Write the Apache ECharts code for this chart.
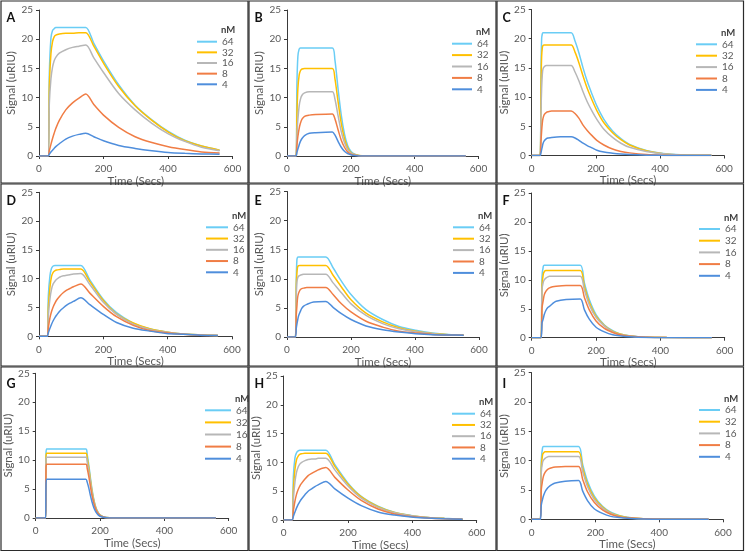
<!DOCTYPE html>
<html>
<head>
<meta charset="utf-8">
<script src="https://cdn.jsdelivr.net/npm/echarts@6/dist/echarts.min.js"></script>
<style>
html,body{margin:0;padding:0;background:#fff;}
#chart{width:745px;height:552px;}
</style>
</head>
<body>
<div id="chart"></div>
<script>
// ---------------- DATA ----------------
const concentrations = ['64', '32', '16', '8', '4'];
const panelLetters = ['A', 'B', 'C', 'D', 'E', 'F', 'G', 'H', 'I'];
const xTicks = [0, 200, 400, 600];
const yTicks = [0, 5, 10, 15, 20, 25];

// Panel A
const A_t  = [0, 28, 32, 37, 42, 47, 52, 63, 83, 104, 124, 145, 170, 200, 247, 298, 350, 401, 452, 504, 560];
const A_64 = [0, 0, 14.0, 20.2, 21.5, 21.8, 22.0, 22.0, 22.0, 22.0, 22.0, 22.0, 19.3, 16.3, 12.2, 8.7, 6.2, 4.2, 2.7, 1.7, 1.0];
const A_32 = [0, 0, 12.0, 17.5, 19.6, 20.4, 20.7, 20.9, 21.0, 21.0, 21.1, 21.1, 18.8, 15.9, 11.9, 8.6, 6.1, 4.1, 2.6, 1.7, 1.0];
const A_16 = [0, 0, 9.0, 13.2, 15.2, 16.3, 16.9, 17.6, 18.2, 18.6, 18.8, 19.0, 16.8, 14.3, 10.7, 7.9, 5.6, 3.8, 2.5, 1.5, 0.9];
const A_8  = [0, 0, 0.9, 2.0, 3.0, 3.9, 4.7, 6.1, 7.9, 9.1, 9.9, 10.6, 8.8, 7.0, 4.9, 3.3, 2.3, 1.6, 1.1, 0.7, 0.5];
const A_4  = [0, 0, 0.3, 0.7, 1.0, 1.3, 1.6, 2.1, 2.9, 3.4, 3.7, 3.9, 3.3, 2.6, 1.8, 1.3, 0.9, 0.6, 0.45, 0.35, 0.3];

// Panel B
const B_t  = [0, 28, 31, 34, 38, 42, 47, 55, 70, 90, 142, 150, 160, 170, 180, 190, 200, 212, 225, 245, 560];
const B_64 = [0, 0, 12.0, 17.0, 18.3, 18.5, 18.5, 18.5, 18.5, 18.5, 18.5, 16.5, 11.5, 7.0, 3.8, 1.8, 0.8, 0.3, 0.1, 0, 0];
const B_32 = [0, 0, 7.0, 11.5, 13.8, 14.6, 14.9, 15.0, 15.0, 15.0, 15.0, 13.3, 9.3, 5.6, 3.0, 1.4, 0.6, 0.25, 0.08, 0, 0];
const B_16 = [0, 0, 3.5, 6.2, 8.5, 9.7, 10.4, 10.8, 11.0, 11.0, 11.0, 9.8, 6.9, 4.2, 2.3, 1.1, 0.5, 0.2, 0.06, 0, 0];
const B_8  = [0, 0, 1.8, 3.3, 4.7, 5.6, 6.3, 6.8, 7.0, 7.1, 7.2, 6.4, 4.5, 2.7, 1.5, 0.7, 0.3, 0.12, 0.04, 0, 0];
const B_4  = [0, 0, 0.6, 1.2, 1.9, 2.5, 3.0, 3.5, 3.9, 4.0, 4.1, 3.6, 2.5, 1.5, 0.8, 0.4, 0.2, 0.07, 0.02, 0, 0];

// Panel C
const C_t  = [0, 26, 29, 31, 33, 35, 39, 46, 52, 62, 90, 123, 135, 147, 160, 173, 188, 203, 225, 252, 278, 305, 357, 410, 463, 560];
const C_64 = [0, 0, 15.0, 20.0, 20.8, 21.0, 21.0, 21.0, 21.0, 21.0, 21.0, 21.0, 19.6, 17.6, 15.0, 12.7, 10.5, 8.5, 6.2, 4.2, 2.9, 1.9, 0.86, 0.34, 0.12, 0.03];
const C_32 = [0, 0, 12.0, 17.0, 18.4, 18.8, 18.9, 18.9, 18.9, 18.9, 18.9, 18.9, 17.7, 15.9, 13.6, 11.5, 9.5, 7.7, 5.6, 3.9, 2.7, 1.8, 0.8, 0.3, 0.1, 0.03];
const C_16 = [0, 0, 7.5, 11.5, 13.8, 14.8, 15.2, 15.4, 15.4, 15.4, 15.4, 15.4, 14.3, 12.8, 10.9, 9.2, 7.6, 6.2, 4.5, 3.1, 2.1, 1.4, 0.7, 0.3, 0.1, 0.03];
const C_8  = [0, 0, 2.5, 4.2, 5.5, 6.3, 7.0, 7.4, 7.5, 7.6, 7.6, 7.6, 7.2, 6.4, 5.2, 4.3, 3.4, 2.6, 1.8, 1.1, 0.7, 0.45, 0.17, 0.06, 0.02, 0];
const C_4  = [0, 0, 0.5, 1.0, 1.5, 2.0, 2.5, 2.9, 3.0, 3.1, 3.2, 3.2, 3.0, 2.6, 2.1, 1.7, 1.3, 0.9, 0.6, 0.4, 0.25, 0.15, 0.05, 0.02, 0, 0];

// Panel D
const D_t  = [0, 25, 29, 34, 39, 44, 50, 55, 65, 76, 86, 96, 107, 130, 158, 200, 241, 293, 344, 396, 448, 500, 556];
const D_64 = [0, 0, 7.0, 10.5, 11.8, 12.2, 12.3, 12.3, 12.3, 12.3, 12.3, 12.3, 12.3, 12.3, 9.8, 6.4, 4.1, 2.3, 1.3, 0.75, 0.4, 0.25, 0.15];
const D_32 = [0, 0, 5.0, 8.5, 10.4, 11.1, 11.4, 11.5, 11.6, 11.7, 11.7, 11.7, 11.7, 11.7, 9.5, 6.2, 3.9, 2.3, 1.3, 0.75, 0.4, 0.25, 0.15];
const D_16 = [0, 0, 3.5, 6.5, 8.2, 9.1, 9.6, 9.9, 10.3, 10.5, 10.6, 10.7, 10.8, 10.9, 9.0, 5.9, 3.8, 2.1, 1.2, 0.7, 0.4, 0.25, 0.15];
const D_8  = [0, 0, 1.5, 3.2, 4.3, 5.1, 5.8, 6.3, 7.0, 7.6, 8.0, 8.3, 8.6, 9.1, 7.5, 5.2, 3.4, 1.9, 1.0, 0.6, 0.35, 0.2, 0.12];
const D_4  = [0, 0, 0.6, 1.4, 2.1, 2.7, 3.3, 3.7, 4.4, 4.95, 5.4, 5.75, 6.05, 6.7, 5.5, 3.8, 2.4, 1.4, 0.9, 0.5, 0.35, 0.2, 0.12];

// Panel E
const E_t  = [0, 26, 29, 31, 33, 36, 41, 46, 52, 62, 83, 121, 144, 170, 200, 247, 299, 350, 402, 454, 505, 552];
const E_64 = [0, 0, 10.0, 13.3, 13.7, 13.75, 13.75, 13.75, 13.75, 13.75, 13.75, 13.75, 11.9, 9.6, 7.3, 4.7, 3.0, 1.8, 1.15, 0.7, 0.45, 0.35];
const E_32 = [0, 0, 9.0, 11.0, 12.0, 12.25, 12.3, 12.3, 12.3, 12.3, 12.3, 12.3, 10.6, 8.6, 6.4, 4.1, 2.6, 1.6, 1.0, 0.6, 0.4, 0.3];
const E_16 = [0, 0, 7.0, 9.4, 10.1, 10.45, 10.6, 10.7, 10.8, 10.8, 10.8, 10.8, 9.3, 7.6, 5.7, 3.7, 2.3, 1.4, 0.9, 0.55, 0.35, 0.3];
const E_8  = [0, 0, 3.8, 5.3, 6.7, 7.5, 8.1, 8.3, 8.4, 8.5, 8.5, 8.5, 7.3, 5.7, 4.3, 2.7, 1.7, 1.0, 0.7, 0.45, 0.35, 0.3];
const E_4  = [0, 0, 1.5, 2.2, 2.8, 3.6, 4.3, 4.9, 5.3, 5.6, 6.0, 6.1, 5.1, 4.0, 3.0, 1.9, 1.25, 0.85, 0.57, 0.4, 0.35, 0.3];

// Panel F
const F_t  = [0, 29, 32, 36, 39, 44, 50, 55, 65, 76, 107, 151, 164, 179, 200, 226, 252, 278, 304, 355, 420, 560];
const F_64 = [0, 0, 10.5, 12.3, 12.5, 12.5, 12.5, 12.5, 12.5, 12.5, 12.5, 12.5, 9.4, 6.6, 4.0, 2.2, 1.2, 0.6, 0.35, 0.1, 0.03, 0];
const F_32 = [0, 0, 9.0, 11.0, 11.4, 11.6, 11.6, 11.6, 11.6, 11.6, 11.6, 11.6, 8.8, 6.1, 3.7, 2.1, 1.1, 0.6, 0.3, 0.1, 0.03, 0];
const F_16 = [0, 0, 8.3, 9.6, 10.0, 10.3, 10.5, 10.6, 10.6, 10.6, 10.6, 10.6, 8.2, 5.7, 3.5, 2.0, 1.0, 0.5, 0.3, 0.1, 0.03, 0];
const F_8  = [0, 0, 5.1, 6.5, 7.4, 8.0, 8.4, 8.6, 8.8, 8.9, 9.0, 9.0, 6.9, 4.8, 2.9, 1.6, 0.9, 0.45, 0.25, 0.08, 0.02, 0];
const F_4  = [0, 0, 2.5, 3.3, 4.0, 4.7, 5.2, 5.4, 5.9, 6.3, 6.6, 6.7, 4.8, 3.2, 1.8, 1.0, 0.5, 0.3, 0.17, 0.05, 0.01, 0];

// Panel G
const G_t  = [0, 31, 32, 34, 156, 160, 165, 170, 175, 180, 185, 190, 195, 200, 210, 220, 240, 560];
const G_64 = [0, 0, 11.0, 11.9, 11.9, 11.0, 9.2, 7.0, 5.0, 3.4, 2.2, 1.4, 0.9, 0.55, 0.2, 0.08, 0.02, 0];
const G_32 = [0, 0, 10.4, 11.2, 11.2, 10.4, 8.7, 6.6, 4.7, 3.2, 2.1, 1.3, 0.85, 0.5, 0.2, 0.07, 0.02, 0];
const G_16 = [0, 0, 9.7, 10.5, 10.5, 9.7, 8.1, 6.2, 4.4, 3.0, 1.95, 1.2, 0.8, 0.47, 0.18, 0.07, 0.02, 0];
const G_8  = [0, 0, 8.4, 9.3, 9.3, 8.6, 7.2, 5.5, 3.9, 2.7, 1.75, 1.1, 0.7, 0.42, 0.16, 0.06, 0.02, 0];
const G_4  = [0, 0, 5.5, 6.7, 6.7, 6.2, 5.2, 3.9, 2.8, 1.9, 1.25, 0.8, 0.5, 0.3, 0.12, 0.04, 0.01, 0];

// Panel H
const H_t  = [0, 26, 30, 35, 40, 45, 50, 56, 66, 76, 87, 97, 107, 131, 159, 200, 241, 293, 344, 396, 448, 500, 556];
const H_64 = [0, 0, 7.5, 10.8, 11.7, 12.0, 12.1, 12.1, 12.1, 12.1, 12.1, 12.1, 12.1, 12.1, 9.6, 6.4, 4.1, 2.4, 1.35, 0.8, 0.45, 0.3, 0.15];
const H_32 = [0, 0, 5.3, 8.8, 10.5, 11.1, 11.4, 11.5, 11.6, 11.6, 11.6, 11.6, 11.6, 11.6, 9.3, 6.2, 4.0, 2.3, 1.3, 0.75, 0.45, 0.28, 0.15];
const H_16 = [0, 0, 3.6, 6.6, 8.3, 9.2, 9.7, 10.0, 10.3, 10.5, 10.6, 10.6, 10.7, 10.7, 8.7, 5.9, 3.8, 2.2, 1.25, 0.72, 0.42, 0.26, 0.15];
const H_8  = [0, 0, 1.6, 3.3, 4.5, 5.3, 5.9, 6.4, 7.1, 7.7, 8.1, 8.4, 8.7, 9.1, 7.4, 5.2, 3.4, 1.9, 1.05, 0.6, 0.35, 0.2, 0.12];
const H_4  = [0, 0, 0.6, 1.4, 2.1, 2.7, 3.2, 3.7, 4.4, 5.0, 5.4, 5.8, 6.1, 6.7, 5.4, 3.8, 2.5, 1.4, 0.85, 0.5, 0.33, 0.2, 0.12];

// Panel I
const I_t  = [0, 27, 30, 34, 37, 42, 48, 53, 63, 74, 105, 147, 160, 175, 196, 222, 248, 274, 300, 350, 420, 555];
const I_64 = [0, 0, 10.0, 12.2, 12.4, 12.4, 12.4, 12.4, 12.4, 12.4, 12.4, 12.4, 9.3, 6.5, 4.0, 2.2, 1.2, 0.65, 0.35, 0.1, 0.03, 0];
const I_32 = [0, 0, 8.8, 11.0, 11.3, 11.5, 11.5, 11.5, 11.5, 11.5, 11.5, 11.5, 8.7, 6.0, 3.7, 2.1, 1.1, 0.6, 0.3, 0.1, 0.03, 0];
const I_16 = [0, 0, 8.0, 9.7, 10.1, 10.4, 10.6, 10.7, 10.7, 10.7, 10.7, 10.7, 8.1, 5.6, 3.4, 1.9, 1.0, 0.5, 0.28, 0.09, 0.02, 0];
const I_8  = [0, 0, 5.0, 6.6, 7.4, 8.0, 8.4, 8.6, 8.8, 8.9, 9.0, 9.0, 6.8, 4.7, 2.9, 1.6, 0.85, 0.45, 0.25, 0.08, 0.02, 0];
const I_4  = [0, 0, 2.4, 3.4, 4.0, 4.7, 5.2, 5.5, 5.9, 6.2, 6.5, 6.6, 4.8, 3.2, 1.8, 1.0, 0.5, 0.3, 0.16, 0.05, 0.01, 0];

// ---------------- LAYOUT / STYLE ----------------
const seriesColors = ['#6ACDF5', '#FFC000', '#B7B7B7', '#F07D45', '#4F8EDC'];
const FONT = 'Lato, "Open Sans", sans-serif';
const TXT = '#595959';

const panels = [
  {t: A_t, s: [A_64, A_32, A_16, A_8, A_4], grid: {left: 39, top: 10, width: 193.5, height: 146}, box: [1, 1, 247, 182], leg: {left: 197, row1: 41.7, sp: 10.65, w: 20}},
  {t: B_t, s: [B_64, B_32, B_16, B_8, B_4], grid: {left: 287, top: 10, width: 191.5, height: 146}, box: [249, 1, 247, 182], leg: {left: 452, row1: 43.7, sp: 11.4, w: 20}},
  {t: C_t, s: [C_64, C_32, C_16, C_8, C_4], grid: {left: 531.7, top: 9.5, width: 192.5, height: 146}, box: [497, 1, 246.5, 182], leg: {left: 696, row1: 44.3, sp: 11.4, w: 21}},
  {t: D_t, s: [D_64, D_32, D_16, D_8, D_4], grid: {left: 39, top: 192.3, width: 193, height: 144}, box: [1, 184, 247, 182], leg: {left: 206, row1: 227.3, sp: 11.25, w: 22}},
  {t: E_t, s: [E_64, E_32, E_16, E_8, E_4], grid: {left: 287, top: 191.5, width: 192, height: 145.5}, box: [249, 184, 247, 182], leg: {left: 453, row1: 227.3, sp: 11.4, w: 21}},
  {t: F_t, s: [F_64, F_32, F_16, F_8, F_4], grid: {left: 531.7, top: 193, width: 193, height: 144.7}, box: [497, 184, 246.5, 182], leg: {left: 699, row1: 229, sp: 11.7, w: 21}},
  {t: G_t, s: [G_64, G_32, G_16, G_8, G_4], grid: {left: 35.7, top: 373.3, width: 193, height: 144.7}, box: [1, 367, 247, 183.5], leg: {left: 205, row1: 410.3, sp: 12.1, w: 26}},
  {t: H_t, s: [H_64, H_32, H_16, H_8, H_4], grid: {left: 283.7, top: 376, width: 193, height: 144}, box: [249, 367, 247, 183.5], leg: {left: 452, row1: 413.7, sp: 11.25, w: 23}},
  {t: I_t, s: [I_64, I_32, I_16, I_8, I_4], grid: {left: 531.7, top: 372.7, width: 191.3, height: 146.6}, box: [497, 367, 246.5, 183.5], leg: {left: 699, row1: 410, sp: 11.7, w: 21}}
];

const grids = [], xAxes = [], yAxes = [], series = [], legends = [], graphics = [];

panels.forEach((p, i) => {
  grids.push(Object.assign({containLabel: false}, p.grid));
  xAxes.push({
    type: 'value', gridIndex: i,
    min: xTicks[0], max: xTicks[xTicks.length - 1], interval: xTicks[1] - xTicks[0],
    axisLine: {show: true, onZero: false, lineStyle: {color: '#3a3a3a', width: 1}},
    axisTick: {show: true, length: 3, lineStyle: {color: '#3a3a3a'}},
    axisLabel: {fontSize: 10, color: TXT, fontFamily: FONT, margin: 8},
    splitLine: {show: false},
    name: 'Time (Secs)', nameLocation: 'middle', nameGap: 10.5,
    nameTextStyle: {fontSize: 11.5, color: TXT, fontFamily: FONT}
  });
  yAxes.push({
    type: 'value', gridIndex: i,
    min: yTicks[0], max: yTicks[yTicks.length - 1], interval: yTicks[1] - yTicks[0],
    axisLine: {show: true, lineStyle: {color: '#3a3a3a', width: 1}},
    axisTick: {show: true, length: 3, lineStyle: {color: '#3a3a3a'}},
    axisLabel: {fontSize: 10, color: TXT, fontFamily: FONT, margin: 6},
    splitLine: {show: false},
    name: 'Signal (uRIU)', nameLocation: 'middle', nameGap: 19, nameRotate: 90,
    nameTextStyle: {fontSize: 11.5, color: TXT, fontFamily: FONT}
  });
  concentrations.forEach((c, k) => {
    series.push({
      type: 'line', name: c, xAxisIndex: i, yAxisIndex: i,
      data: p.t.map((t, j) => [t, p.s[k][j]]),
      symbol: 'none', showSymbol: false, smooth: 0.3,
      lineStyle: {width: 1.5, color: seriesColors[k]},
      itemStyle: {color: seriesColors[k]},
      emphasis: {disabled: true},
      animation: false
    });
  });
  legends.push({
    orient: 'vertical', left: p.leg.left, top: p.leg.row1 - 5,
    itemWidth: p.leg.w, itemHeight: 2, itemGap: p.leg.sp - 10,
    icon: 'rect',
    selectedMode: false, padding: 0,
    data: concentrations,
    textStyle: {fontSize: 10, color: TXT, fontFamily: FONT, lineHeight: 10, padding: [0, 0, 0, 0]}
  });
  const [bx, by, bw, bh] = p.box;
  graphics.push({
    type: 'rect', shape: {x: bx, y: by, width: bw, height: bh},
    style: {fill: 'none', stroke: '#2b2b2b', lineWidth: 1.2}, silent: true, z: 100
  });
  graphics.push({
    type: 'text', x: bx + 5.5, y: by + 10.5,
    style: {text: panelLetters[i], fontSize: 12.5, fontWeight: 'bold', fill: '#111', fontFamily: FONT, textVerticalAlign: 'top'},
    silent: true, z: 100
  });
  graphics.push({
    type: 'text', x: p.leg.left + p.leg.w + 4, y: p.leg.row1 - 11.5,
    style: {text: 'nM', fontSize: 9.5, fontWeight: 'bold', fill: '#404040', fontFamily: FONT, textVerticalAlign: 'middle'},
    silent: true, z: 100
  });
});

const chart = echarts.init(document.getElementById('chart'), null, {renderer: 'canvas'});
chart.setOption({
  animation: false,
  backgroundColor: '#ffffff',
  grid: grids,
  xAxis: xAxes,
  yAxis: yAxes,
  legend: legends,
  series: series,
  graphic: graphics
});
</script>
</body>
</html>
